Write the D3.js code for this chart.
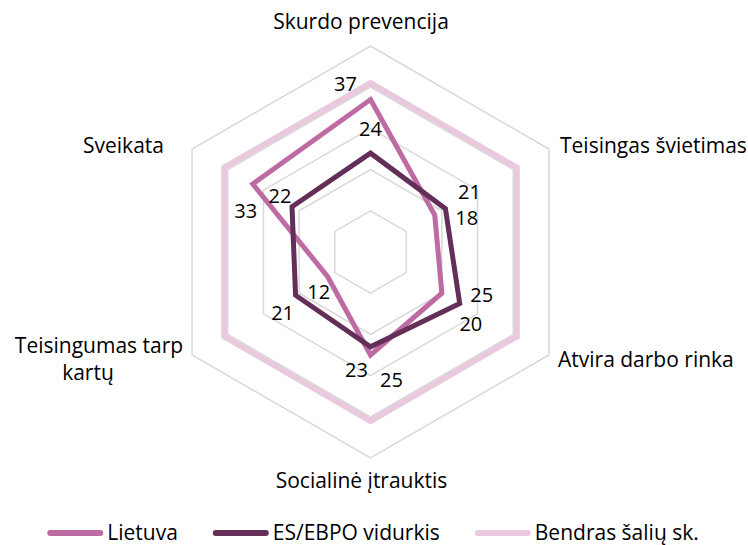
<!DOCTYPE html>
<html lang="lt">
<head>
  <meta charset="UTF-8">
  <title>Radar</title>
  <script src="https://d3js.org/d3.v7.min.js"></script>
  <style>
    body { margin: 0; background: #fff; }
    text { font-family: "Open Sans", sans-serif; fill: #000; }
    .grid { fill: none; stroke: #d9d9d9; stroke-width: 1.5; }
    .series { fill: none; stroke-linejoin: miter; }
  </style>
</head>
<body>
<script>
  // data
  const categories = ['Skurdo prevencija', 'Teisingas švietimas', 'Atvira darbo rinka',
                      'Socialinė įtrauktis', 'Teisingumas tarp kartų', 'Sveikata'];
  const lietuva = [37, 18, 20, 25, 12, 33];
  const esEbpo = [24, 21, 25, 23, 21, 22];
  const bendras = [41, 41, 41, 41, 41, 41];
  const seriesNames = ['Lietuva', 'ES/EBPO vidurkis', 'Bendras šalių sk.'];
  const ringTicks = [10, 20, 30, 40, 50];

  const colors = ['#bd6ba2', '#632e57', '#e8c9de'];
  const widths = [5, 5, 6];

  const W = 748, H = 545;
  const cx = 370.5, cy = 252, R = 206;

  const svg = d3.select('body').append('svg')
    .attr('width', W).attr('height', H);

  const r = d3.scaleLinear().domain([0, 50]).range([0, R]);
  const angle = d3.scalePoint().domain(d3.range(categories.length))
    .range([0, 2 * Math.PI * (categories.length - 1) / categories.length]);

  const g = svg.append('g').attr('transform', `translate(${cx},${cy})`);

  const radial = d3.lineRadial()
    .angle((d, i) => angle(i))
    .radius(d => r(d))
    .curve(d3.curveLinearClosed);

  // grid rings
  g.selectAll('.grid').data(ringTicks).enter().append('path')
    .attr('class', 'grid')
    .attr('d', t => radial(categories.map(() => t)));

  // series lines
  const allSeries = [lietuva, esEbpo, bendras];
  g.selectAll('.series').data(allSeries).enter().append('path')
    .attr('class', 'series')
    .attr('stroke', (d, i) => colors[i])
    .attr('stroke-width', (d, i) => widths[i])
    .attr('d', d => radial(d));

  // data labels (Lietuva, ES/EBPO) with hand placed offsets from the point
  const labelOffsets = [
    [[-25, -9], [32, 10], [29, 38], [21, 32], [-9, 22], [-7, 34]],
    [[0, -17], [24, -10], [22, -2], [-14, 30], [-13, 25], [-12, -4]]
  ];
  const pt = (v, i) => {
    const a = angle(i) - Math.PI / 2;
    return [r(v) * Math.cos(a), r(v) * Math.sin(a)];
  };
  [lietuva, esEbpo].forEach((s, si) => {
    g.selectAll('.lbl' + si).data(s).enter().append('text')
      .attr('class', 'lbl' + si)
      .attr('text-anchor', 'middle')
      .attr('font-size', 20)
      .attr('x', (d, i) => pt(d, i)[0] + labelOffsets[si][i][0])
      .attr('y', (d, i) => pt(d, i)[1] + labelOffsets[si][i][1])
      .text(d => d);
  });

  // category labels
  const catPlace = [
    {x: 361, y: 29, anchor: 'middle'},
    {x: 560, y: 153, anchor: 'start'},
    {x: 558, y: 367, anchor: 'start'},
    {x: 361.5, y: 488, anchor: 'middle'},
    {x: 98, y: 353, anchor: 'middle', lines: ['Teisingumas tarp', 'kartų'], lineX: [99, 88]},
    {x: 83, y: 153, anchor: 'start'}
  ];
  categories.forEach((c, i) => {
    const p = catPlace[i];
    const t = svg.append('text')
      .attr('font-size', 21)
      .attr('text-anchor', p.anchor)
      .attr('x', p.x).attr('y', p.y);
    if (p.lines) {
      p.lines.forEach((ln, k) => {
        t.append('tspan').attr('x', p.lineX[k]).attr('y', p.y + k * 27).text(ln);
      });
    } else {
      t.text(c);
    }
  });

  // legend
  const legend = svg.append('g');
  const lineLen = 56, gapIn = 4, gapOut = 35, ly = 533;
  let lx = 0;
  seriesNames.forEach((n, i) => {
    const item = legend.append('g').attr('transform', `translate(${lx},0)`);
    item.append('line')
      .attr('x1', 3).attr('x2', lineLen - 3)
      .attr('y1', ly).attr('y2', ly)
      .attr('stroke', colors[i]).attr('stroke-width', 6)
      .attr('stroke-linecap', 'round');
    const t = item.append('text')
      .attr('font-size', 21)
      .attr('x', lineLen + gapIn).attr('y', 540)
      .text(n);
    lx += lineLen + gapIn + t.node().getComputedTextLength() + gapOut;
  });
  const total = lx - gapOut;
  legend.attr('transform', `translate(${373 - total / 2},0)`);
</script>
</body>
</html>
